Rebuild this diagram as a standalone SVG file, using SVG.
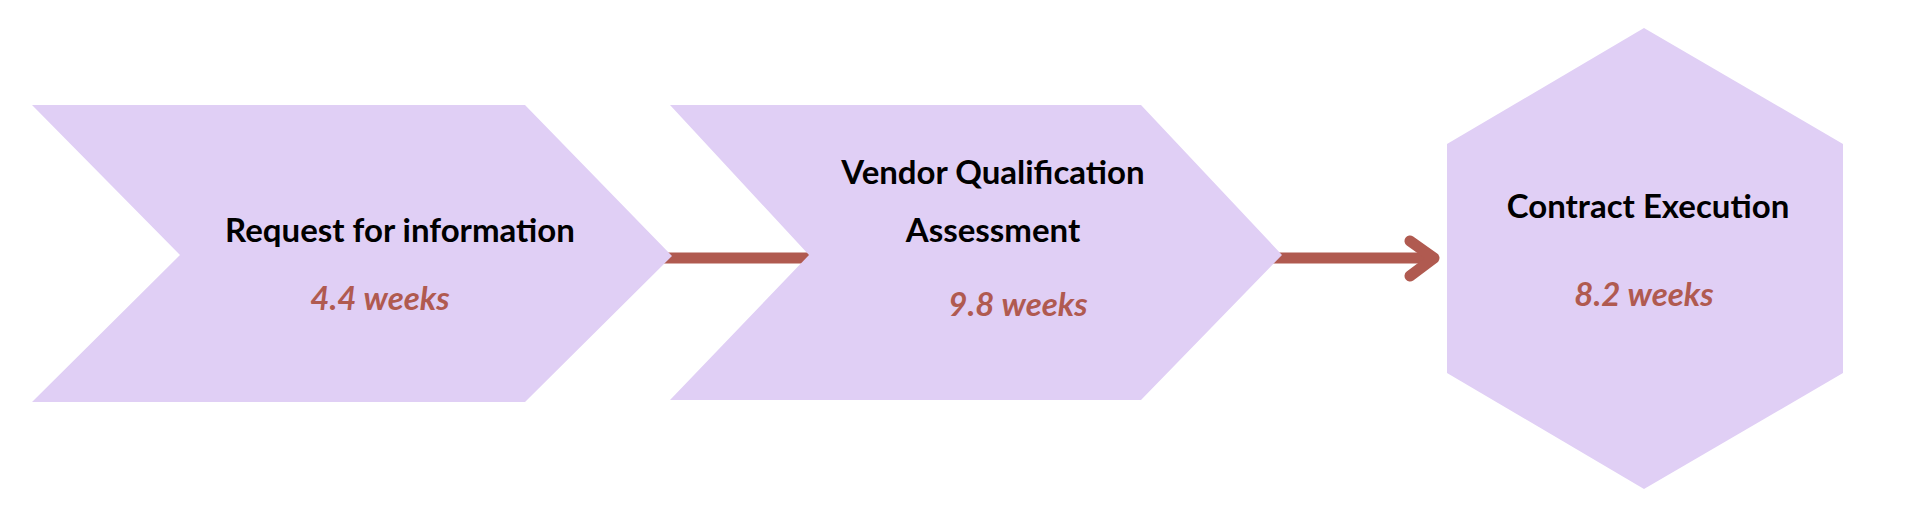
<svg xmlns="http://www.w3.org/2000/svg" width="1920" height="524" viewBox="0 0 1920 524">
<style>
.n{fill:#E0CFF5}
.t{font-family:Lato,"Open Sans",sans-serif;font-weight:bold;font-size:33px;fill:#000;text-anchor:middle}
.d{font-family:Lato,"Open Sans",sans-serif;font-weight:bold;font-style:italic;font-size:33px;fill:#B05A50;text-anchor:middle}
.c{stroke:#B05A50;stroke-width:11;fill:none;stroke-linecap:round;stroke-linejoin:round}
</style>
<rect width="1920" height="524" fill="#fff"/>
<g id="connectors">
<line class="c" x1="663" y1="258" x2="812" y2="258" stroke-linecap="butt"/>
<line class="c" x1="1273" y1="258" x2="1432" y2="258" stroke-linecap="butt"/>
<polyline class="c" points="1410,241 1434,258 1410,276"/>
</g>
<g id="n1">
<polygon class="n" points="32,105 525,105 672,256 525,402 32,402 180,255"/>
<text class="t" x="400" y="242">Request for information</text>
<text class="d" x="380" y="310">4.4 weeks</text>
</g>
<g id="n2">
<polygon class="n" points="670,105 1141,105 1282,255 1141,400 670,400 809,255"/>
<text class="t" x="993" y="184">Vendor Qualification</text>
<text class="t" x="993" y="242">Assessment</text>
<text class="d" x="1018" y="316">9.8 weeks</text>
</g>
<g id="n3">
<polygon class="n" points="1644,28 1843,144 1843,373 1644,489 1447,373 1447,144"/>
<text class="t" x="1648" y="218">Contract Execution</text>
<text class="d" x="1644" y="306">8.2 weeks</text>
</g>
</svg>
